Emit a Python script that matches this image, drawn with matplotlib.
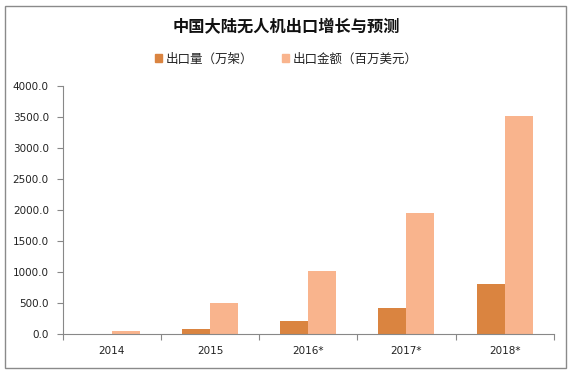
import matplotlib
matplotlib.use("Agg")
import matplotlib.pyplot as plt
from matplotlib.patches import Rectangle, Patch
import numpy as np

plt.rcParams['font.family'] = ['Noto Sans CJK SC', 'DejaVu Sans']

years = ["2014", "2015", "2016*", "2017*", "2018*"]
qty = [0, 80, 210, 420, 800]          # 出口量（万架）
amount = [50, 500, 1020, 1945, 3505]  # 出口金额（百万美元）
series_names = ["出口量（万架）", "出口金额（百万美元）"]
title = "中国大陆无人机出口增长与预测"
yticks = [0, 500, 1000, 1500, 2000, 2500, 3000, 3500, 4000]

c_qty = "#DA8440"
c_amt = "#F9B48D"

W, H = 572, 374
fig = plt.figure(figsize=(W/100, H/100), dpi=100)
ax = fig.add_axes([62.7/W, 1-334/H, (553.7-62.7)/W, (334-85.7)/H])

x = np.arange(len(years))
bw = 0.285
ax.bar(x - bw/2, qty, bw, color=c_qty, label=series_names[0], zorder=2)
ax.bar(x + bw/2, amount, bw, color=c_amt, label=series_names[1], zorder=2)

ax.set_xlim(-0.5, len(years) - 0.5)
ax.set_ylim(0, 4000)
ax.set_yticks(yticks)
ax.set_yticklabels([f"{v:.1f}" for v in yticks], family=['DejaVu Sans'])
ax.set_xticks(np.arange(-0.5, len(years)), labels=[""] * (len(years) + 1))
ax.set_xticks(x, labels=years, minor=True)
for lab in ax.get_xticklabels(minor=True):
    lab.set_family(['DejaVu Sans'])
ax.tick_params(axis='x', which='major', length=4, color='#888888', width=0.8, direction='out')
ax.tick_params(axis='x', which='minor', length=0, pad=9, labelsize=7.5, labelcolor='#222222')
ax.tick_params(axis='y', length=4, color='#888888', width=0.8, direction='out', pad=6,
               labelsize=7.5, labelcolor='#222222')
for s in ['top', 'right']:
    ax.spines[s].set_visible(False)
for s in ['left', 'bottom']:
    ax.spines[s].set_color('#888888')
    ax.spines[s].set_linewidth(0.8)

fig.text(0.5, 1 - 27/H, title, ha='center', va='center', fontsize=11.7, fontweight='bold',
         color='#111111')

handles = [Patch(color=c_qty), Patch(color=c_amt)]
fig.legend(handles, series_names, loc='center', bbox_to_anchor=(0.5, 1 - 59/H), ncol=2,
           frameon=False, fontsize=9, handlelength=0.55, handleheight=0.55,
           handletextpad=0.3, columnspacing=2.3, labelcolor='#222222')

fig.patches.append(Rectangle((5/W, 1 - 367.7/H), (566-5)/W, (367.7-6)/H,
                             transform=fig.transFigure, fill=False,
                             edgecolor='#8a8a8a', linewidth=1.0))

fig.savefig("out.png", dpi=100)
